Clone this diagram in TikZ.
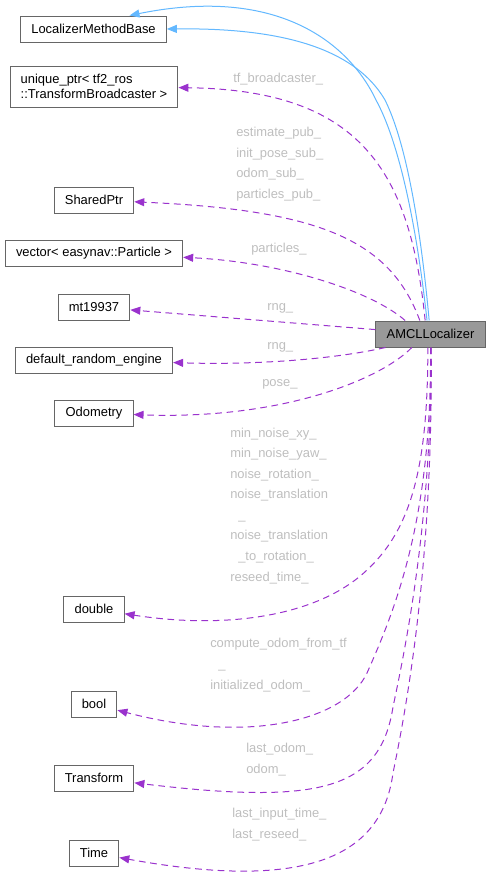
\documentclass[tikz,border=0pt]{standalone}
\usepackage{fontspec}
\setmainfont{Liberation Sans}
\usepackage{xcolor}
\usetikzlibrary{arrows.meta, positioning}

\definecolor{boxline}{RGB}{102,102,102}
\definecolor{mainfill}{RGB}{153,153,153}
\definecolor{usecolor}{RGB}{154,50,205}
\definecolor{basecolor}{RGB}{99,184,255}
\definecolor{labelgray}{RGB}{190,190,190}

\tikzset{
  cls/.style={draw=boxline, line width=0.75pt, fill=white, inner xsep=8pt,
    minimum height=19.5pt, font=\fontsize{9.7}{11.3}\selectfont},
  member/.style={usecolor, line width=0.75pt, dash pattern=on 5pt off 3.5pt,
    -{Triangle[length=7.5pt, width=6pt]}},
  inherit/.style={basecolor, line width=0.75pt,
    -{Triangle[length=7.5pt, width=6pt]}},
  lbl/.style={labelgray, inner sep=0pt, anchor=base west, align=left,
    font=\fontsize{9.7}{15.4}\selectfont},
}

\begin{document}
\begin{tikzpicture}[x=0.75pt, y=-0.75pt]
            \useasboundingbox (0,0) rectangle (491,886);
            % classes
            \node[cls](lmb) at (93.5,29) {LocalizerMethodBase};
            \node[cls, align=left, minimum height=30.75pt](tfb) at (94,86.5) {unique\_ptr< tf2\_ros\\::TransformBroadcaster >};
            \node[cls](shp) at (94,200) {SharedPtr};
            \node[cls](vec) at (94,253) {vector< easynav::Particle >};
            \node[cls](mt) at (94,307) {mt19937};
            \node[cls](dre) at (94,360) {default\_random\_engine};
            \node[cls](odo) at (94,413) {Odometry};
            \node[cls](dbl) at (94,609) {double};
            \node[cls](bol) at (94,704) {bool};
            \node[cls](trf) at (94,778) {Transform};
            \node[cls](tim) at (94,853) {Time};
            \node[cls, fill=mainfill](amcl) at (430.5,334) {AMCLLocalizer};

            % inheritance
            \draw[inherit] ([xshift=-2.6pt]amcl.north) .. controls (416,220) and (398,140) .. (376,100)
              .. controls (350,45) and (280,-15) .. ([xshift=27pt]lmb.north);
            \draw[inherit] ([xshift=-1pt]amcl.north) .. controls (420,220) and (405,140) .. (385,100)
              .. controls (350,40) and (260,28) .. (lmb.east);

            % members
            \draw[member] ([xshift=-4pt]amcl.north) .. controls (410,170) and (360,90) .. (tfb);
            \draw[member] ([xshift=-8pt]amcl.north) .. controls (390,240) and (320,210) .. (shp);
            \draw[member] ([xshift=-19pt]amcl.north) .. controls (370,290) and (280,262) .. (vec);
            \draw[member] (amcl) -- (mt);
            \draw[member] ([xshift=7.5pt]amcl.south west) .. controls (330,360) and (250,365) .. (dre);
            \draw[member] ([xshift=-14pt]amcl.south) .. controls (380,380) and (280,420) .. (odo);
            \draw[member] ([xshift=-2pt]amcl.south) .. controls (428,470) and (410,530) .. (367,570)
              .. controls (320,615) and (230,630) .. (dbl);
            \draw[member] (amcl.south) .. controls (432,520) and (395,610) .. (367,673)
              .. controls (345,720) and (250,745) .. (bol);
            \draw[member] ([xshift=0.5pt]amcl.south) .. controls (432,520) and (405,650) .. (393,707)
              .. controls (380,790) and (320,805) .. (trf);
            \draw[member] ([xshift=0.5pt]amcl.south) .. controls (433,560) and (408,700) .. (393,773)
              .. controls (382,855) and (310,892) .. (tim);

            % labels (anchored at the baseline of the last line)
            \node[lbl](l1) at (233,82) {tf\_broadcaster\_};
            \node[lbl](l2) at (236,198.5) {estimate\_pub\_\\init\_pose\_sub\_\\odom\_sub\_\\particles\_pub\_};
            \node[lbl](l3) at (251,252) {particles\_};
            \node[lbl](l4) at (267,310) {rng\_};
            \node[lbl](l5) at (267,349) {rng\_};
            \node[lbl](l6) at (262,386) {pose\_};
            \node[lbl](l7) at (230,581) {min\_noise\_xy\_\\min\_noise\_yaw\_\\noise\_rotation\_\\noise\_translation\\\hspace*{6pt}\_\\noise\_translation\\\hspace*{6pt}\_to\_rotation\_\\reseed\_time\_};
            \node[lbl](l8) at (210,689) {compute\_odom\_from\_tf\\\hspace*{6pt}\_\\initialized\_odom\_};
            \node[lbl](l9) at (246,773) {last\_odom\_\\odom\_};
            \node[lbl](l10) at (232,838) {last\_input\_time\_\\last\_reseed\_};
        \end{tikzpicture}
\end{document}
